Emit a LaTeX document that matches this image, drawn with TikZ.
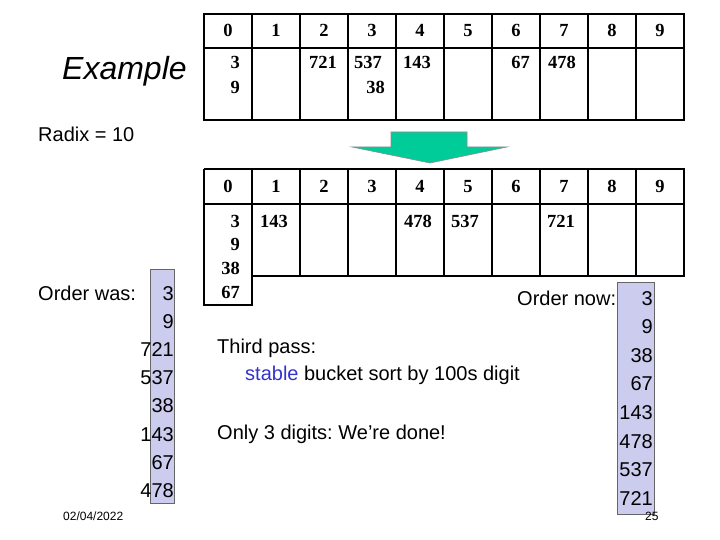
\documentclass[tikz,border=0pt]{standalone}
\usepackage{fontspec}
\setmainfont{Liberation Sans}
\newfontfamily\tnr{Liberation Serif}
\definecolor{lav}{HTML}{CCCCEE}
\definecolor{arrowgreen}{HTML}{00CC99}
\definecolor{stblue}{HTML}{3333CC}
\frenchspacing
\begin{document}
\begin{tikzpicture}[x=1pt,y=-1pt,
  gridline/.style={line width=2.4pt},
  hdr/.style={font=\tnr\bfseries\fontsize{18.5}{22}\selectfont, inner sep=0, anchor=base},
  numl/.style={font=\tnr\bfseries\fontsize{18.5}{22}\selectfont, inner sep=0, anchor=base west},
  numr/.style={font=\tnr\bfseries\fontsize{18.5}{22}\selectfont, inner sep=0, anchor=base east},
  lab/.style={font=\fontsize{20}{24}\selectfont, inner sep=0, anchor=base west},
  colnum/.style={font=\fontsize{20}{24}\selectfont, inner sep=0, anchor=base east},
  colbox/.style={fill=lav, draw=black!60, line width=0.8pt},
  smalltxt/.style={font=\fontsize{12}{14}\selectfont, inner sep=0, anchor=base west},
  bigarrow/.style={fill=arrowgreen, draw=black!45, line width=0.6pt}
]
\useasboundingbox (0,0) rectangle (720,540);

% ---------- table 1 ----------
\draw[gridline] (204,14) rectangle (684,120);
\draw[gridline] (204,48) -- (684,48);
\foreach \k in {1,...,9} \draw[gridline] ({204+48*\k},14) -- ({204+48*\k},120);
\foreach \k in {0,...,9} \node[hdr] (ha\k) at ({228+48*\k},37) {\k};
\node[numr] (a0a) at (240,69) {3};
\node[numr] (a0b) at (240,94) {9};
\node[numl] (a2a) at (309,69) {721};
\node[numl] (a3a) at (354,69) {537};
\node[numr] (a3b) at (385,94) {38};
\node[numl] (a4a) at (403,69) {143};
\node[numr] (a6a) at (530,69) {67};
\node[numl] (a7a) at (548,69) {478};

% ---------- arrow ----------
\draw[bigarrow] (391,132) -- (467,132) -- (467,147) -- (507,147) -- (430,163) -- (352,147) -- (391,147) -- cycle;

% ---------- table 2 ----------
\draw[gridline] (204,169) -- (684,169) -- (684,276) -- (252,276);
\draw[gridline] (204,169) -- (204,305) -- (252,305) -- (252,169);
\draw[gridline] (204,204) -- (684,204);
\foreach \k in {2,...,9} \draw[gridline] ({204+48*\k},169) -- ({204+48*\k},276);
\foreach \k in {0,...,9} \node[hdr] (hb\k) at ({228+48*\k},193) {\k};
\node[numr] (b0a) at (240,227) {3};
\node[numr] (b0b) at (240,251) {9};
\node[numr] (b0c) at (240,274) {38};
\node[numr] (b0d) at (240,298) {67};
\node[numl] (b1a) at (260,227) {143};
\node[numl] (b4a) at (404,227) {478};
\node[numl] (b5a) at (451,227) {537};
\node[numl] (b7a) at (547,227) {721};

% ---------- texts ----------
\node[inner sep=0, anchor=base west, font=\itshape\fontsize{32}{38}\selectfont] (title) at (62,80) {Example};
\node[lab] (radix) at (38,142) {Radix = 10};
\node[lab] (was) at (38,300) {Order was:};
\node[lab] (now) at (517,305) {Order now:};
\node[lab] (third) at (217,353) {Third pass:};
\node[lab] (stable) at (245,380) {\textcolor{stblue}{stable} bucket sort by 100s digit};
\node[lab] (done) at (217,439) {Only 3 digits: We’re done!};
\node[smalltxt] (date) at (63,520) {02/04/2022};

% ---------- columns ----------
\draw[colbox] (150,269) rectangle (174,503);
\foreach \v [count=\i from 0] in {3,9,721,537,38,143,67,478}
  \node[colnum] (w\i) at (174,{300+28.2*\i}) {\v};
\draw[colbox] (617,282) rectangle (654,514);
\foreach \v [count=\i from 0] in {3,9,38,67,143,478,537,721}
  \node[colnum] (n\i) at (653,{305+28.6*\i}) {\v};

\node[smalltxt] (page) at (645,520) {25};
\end{tikzpicture}
\end{document}
